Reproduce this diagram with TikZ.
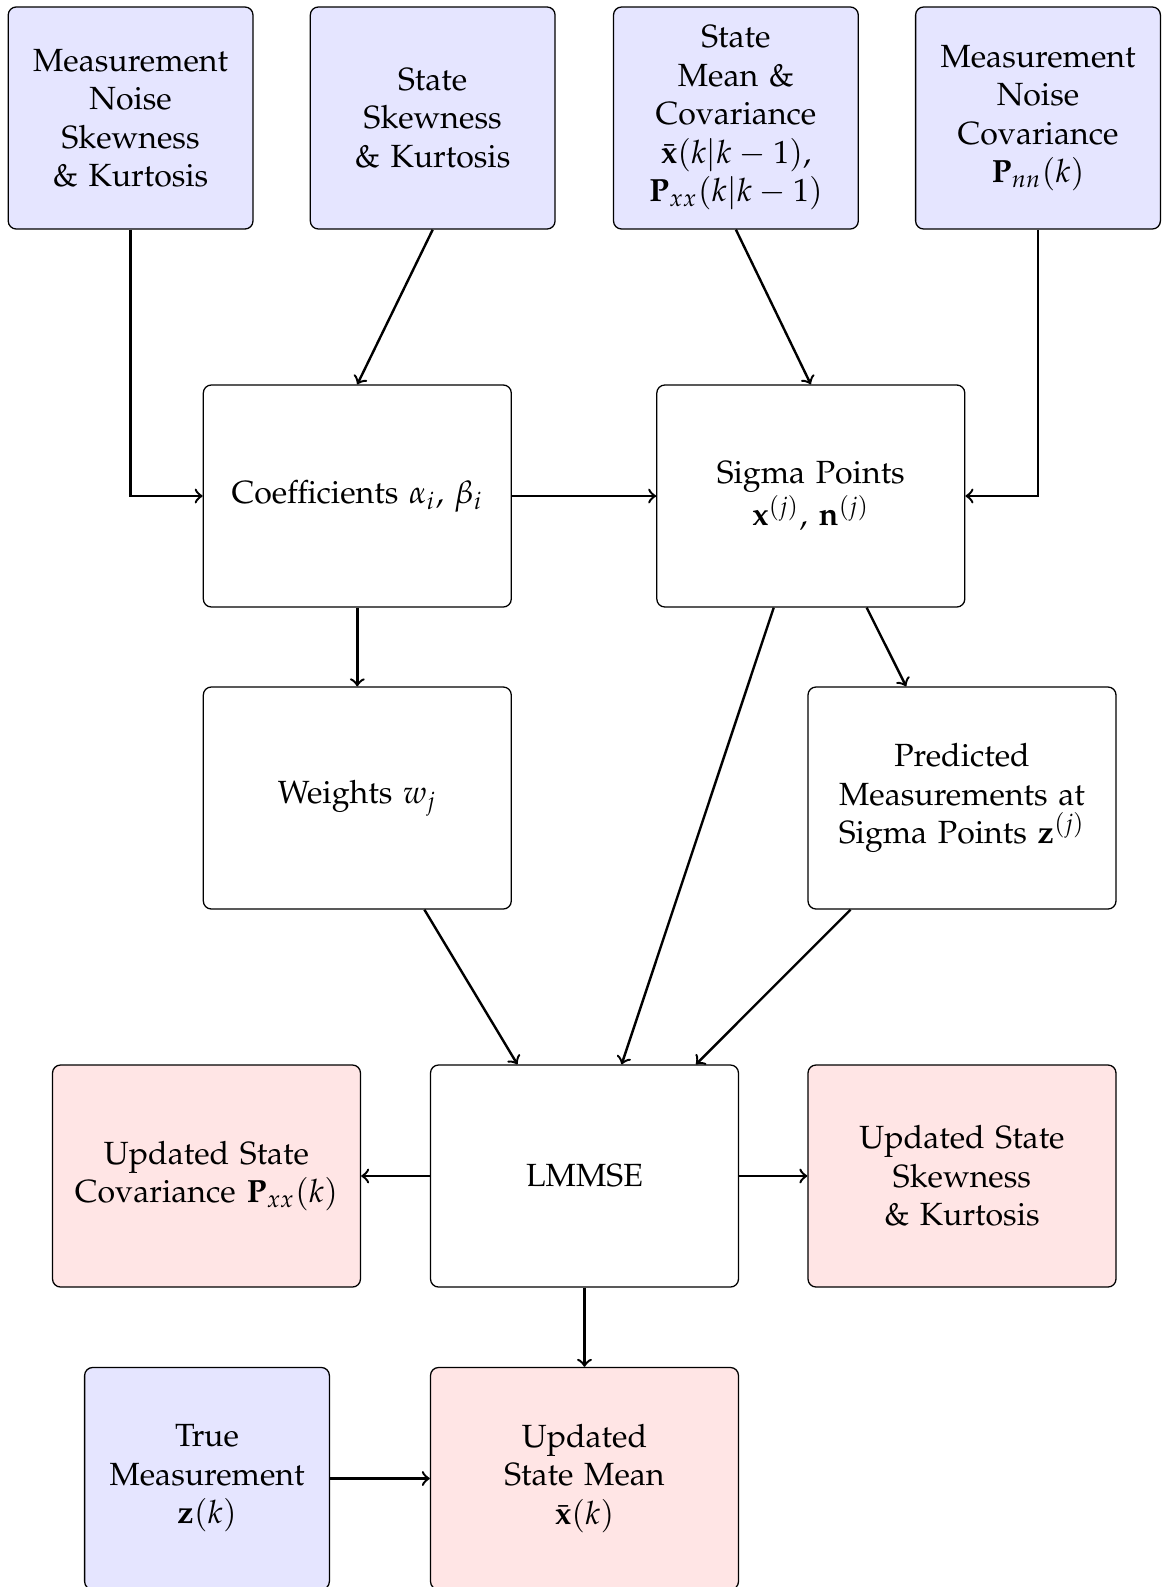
\documentclass[tikz,border=0pt]{standalone}
\usepackage[T1]{fontenc}
\usepackage{mathpazo}
\usepackage{amsmath}
\begin{document}
\begin{tikzpicture}[x=0.3117pt,y=-0.3117pt,
  box/.style={draw,line width=0.4pt,rounded corners=2.5pt,align=center,inner sep=2pt,
    minimum height=69.2pt,font=\normalsize},
  narrow/.style={box,minimum width=76.3pt,text width=72pt},
  wide/.style={box,minimum width=95.9pt,text width=92pt},
  inbox/.style={fill=blue!10},
  outbox/.style={fill=red!10},
  arr/.style={->,line width=0.75pt}]
\useasboundingbox (0,0) rectangle (1162,1587);
% top row
\node[narrow,inbox] (mns) at (130.6,118) {Measurement\\Noise\\Skewness\\\& Kurtosis};
\node[narrow,inbox] (ssk) at (432.7,118) {State\\Skewness\\\& Kurtosis};
\node[narrow,inbox] (smc) at (735.9,118) {State\\Mean \&\\Covariance\\$\bar{\mathbf{x}}(k|k-1)$,\\$\mathbf{P}_{xx}(k|k-1)$};
\node[narrow,inbox] (mnc) at (1038,118) {Measurement\\Noise\\Covariance\\$\mathbf{P}_{nn}(k)$};
% second row
\node[wide] (coef) at (357.3,496) {Coefficients $\alpha_i$, $\beta_i$};
\node[wide] (sig) at (810.8,496) {Sigma Points\\$\mathbf{x}^{(j)}$, $\mathbf{n}^{(j)}$};
% third row
\node[wide] (wts) at (357.3,798) {Weights $w_j$};
\node[wide] (pred) at (962,798) {Predicted\\Measurements at\\Sigma Points $\mathbf{z}^{(j)}$};
% fourth row
\node[wide,outbox] (ucov) at (206.5,1176) {Updated State\\Covariance $\mathbf{P}_{xx}(k)$};
\node[wide] (lmmse) at (584.5,1176) {LMMSE};
\node[wide,outbox] (uskew) at (962,1176) {Updated State\\Skewness\\\& Kurtosis};
% fifth row
\node[narrow,inbox] (true) at (207,1478.5) {True\\Measurement\\$\mathbf{z}(k)$};
\node[wide,outbox] (umean) at (584.5,1478.5) {Updated\\State Mean\\$\bar{\mathbf{x}}(k)$};
% connectors
\draw[arr] (mns.south) |- (coef.west);
\draw[arr] (ssk.south) -- (coef.north);
\draw[arr] (smc.south) -- (sig.north);
\draw[arr] (mnc.south) |- (sig.east);
\draw[arr] (coef.east) -- (sig.west);
\draw[arr] (coef.south) -- (wts.north);
\draw[arr] (sig) -- (pred);
\draw[arr] (sig) -- (lmmse);
\draw[arr] (wts) -- (lmmse);
\draw[arr] (pred) -- (lmmse);
\draw[arr] (lmmse.west) -- (ucov.east);
\draw[arr] (lmmse.east) -- (uskew.west);
\draw[arr] (lmmse.south) -- (umean.north);
\draw[arr] (true.east) -- (umean.west);
\end{tikzpicture}
\end{document}
